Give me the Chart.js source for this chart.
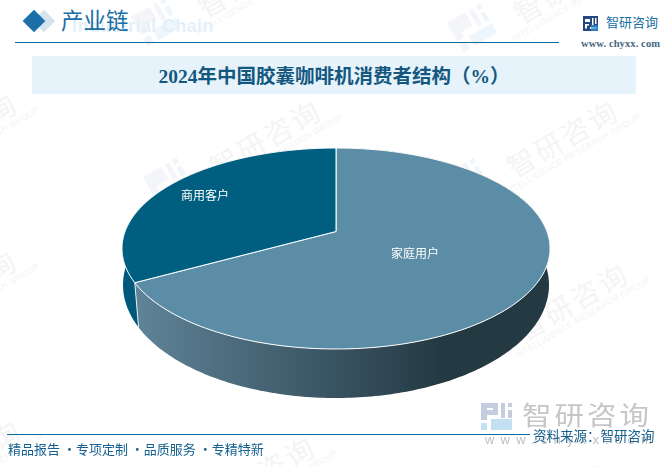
<!DOCTYPE html>
<html lang="zh">
<head>
<meta charset="utf-8">
<title>2024年中国胶囊咖啡机消费者结构（%）</title>
<script src="https://cdn.jsdelivr.net/npm/chart.js@4/dist/chart.umd.min.js"></script>
<style>
  html, body { margin: 0; padding: 0; background: #fff; }
  #page { position: relative; width: 667px; height: 467px; overflow: hidden; font-family: "Noto Sans CJK SC", sans-serif; }
  #page div, #page svg { position: absolute; white-space: nowrap; }
  #chart { position: absolute; left: 0; top: 0; }
  .wm { color: #f4f4f4; font-size: 28px; letter-spacing: 3px; transform: translate(-50%, -50%) rotate(-30deg); text-align: center; line-height: 30px; }
  .wm span { display: block; font-size: 8.5px; letter-spacing: 0.4px; line-height: 11px; color: #f3f3f3; font-family: "Liberation Sans", sans-serif; }
  .wm-logo { width: 44px; height: 34px; transform: translate(-50%, -50%) rotate(-30deg); }
</style>
</head>
<body>
<div id="page">
  <div id="watermarks"></div>

  <div style="left:72px;top:16px;font:bold 17.5px 'Liberation Sans',sans-serif;letter-spacing:.6px;color:#e4f0f9">Industrial Chain</div>
  <div style="left:36px;top:13px;width:16px;height:16px;background:#d3e4ee;transform:rotate(45deg)"></div>
  <div style="left:26px;top:13px;width:16px;height:16px;background:#1a6fa8;transform:rotate(45deg)"></div>
  <div style="left:61px;top:5px;font:22.5px/34px 'Liberation Serif','Noto Sans CJK SC',serif;color:#1a6ea5">产业链</div>
  <div style="left:15px;top:42px;width:544px;height:1px;background:#0e6a9e"></div>

  <svg style="left:583px;top:16px" width="15" height="15" viewBox="0 0 15 15">
    <rect width="15" height="15" fill="#24477f"/>
    <path d="M2 3h5v3H2zM2 8h4v1.5H4v3H2zM9 2h1.5v7H9zM12 2h1.5v6H12zM7 11h6.5v2H7z" fill="#fff"/>
    <rect x="8" y="9" width="7" height="6" fill="#2f8fd0" opacity=".75"/>
  </svg>
  <div style="left:606px;top:13px;font-size:13px;line-height:18px;color:#1a6ea5">智研咨询</div>
  <div style="left:581px;top:37px;font:bold 10.5px/13px 'Liberation Serif',serif;letter-spacing:.1px;color:#47687f">www. chyxx. com</div>

  <div style="left:32px;top:56px;width:604px;height:38px;background:#e6f3fb"></div>
  <div style="left:32px;top:56px;width:604px;height:38px;text-align:center;font:bold 19.5px/42px 'Liberation Serif','Noto Sans CJK SC',serif;color:#14587f">2024年中国胶囊咖啡机消费者结构（%）</div>

  <canvas id="chart" width="667" height="467"></canvas>

  <svg style="left:481px;top:403px" width="31" height="27" viewBox="0 0 31 27">
    <path d="M0 0h17v12H6v5H0zM6 5v2h6V5zM20 0h4v15H20zM27 0h4v4h-4zM27 7h4v8h-4z" fill="#c4cde0"/>
    <path d="M0 20h6v7H0zM10 16h21v11H10z" fill="#c3e0f2"/>
  </svg>
  <div style="left:522px;top:398px;font-size:29.5px;line-height:36px;letter-spacing:3px;color:#c6c6c6;transform-origin:left top;transform:scaleY(.88)">智研咨询</div>
  <div style="left:485px;top:433px;font:13px/14px 'Liberation Sans',sans-serif;letter-spacing:6.2px;color:#bdbdbd">www.chyxx.com</div>

  <div style="left:7px;top:434px;width:523px;height:1px;background:#0e6a9e"></div>
  <div style="left:533px;top:426px;font-size:13.5px;line-height:18px;color:#15608f">资料来源：智研咨询</div>
  <div style="left:8px;top:440px;font-size:13px;line-height:18px;color:#15608f">精品报告 ·专项定制 ·品质服务 ·专精特新</div>
</div>

<script>
const categories = ["家庭用户", "商用客户"];
const shares = [67, 33];
const sliceColors = ["#5c8da6", "#005f80"];

// screen shape of the tilted pie, top face and bottom rim
const topFace = { cx: 336, cy: 248.5, rx: 214, ry: 100.5, tilt: -0.169 };
const bottomRim = { cx: 336, cy: 285, rx: 213, ry: 113, tilt: -0.13 };
const labelRadius = [0.42, 0.77];

// circle point -> perspective view of it
function project(face, x, y) {
    const d = face.tilt * y + 1;
    const k = Math.sqrt(1 - face.tilt * face.tilt);
    return [
        face.cx + face.rx * k * x / d,
        face.cy + face.ry * (y + face.tilt) / d
    ];
}

function arcPoints(face, start, end) {
    const steps = Math.max(2, Math.ceil(Math.abs(end - start) * 60));
    const pts = [];
    for (let i = 0; i <= steps; i++) {
        const a = start + (end - start) * i / steps;
        pts.push(project(face, Math.cos(a), Math.sin(a)));
    }
    return pts;
}

function tracePoly(ctx, pts) {
    ctx.beginPath();
    pts.forEach((p, i) => i ? ctx.lineTo(p[0], p[1]) : ctx.moveTo(p[0], p[1]));
    ctx.closePath();
}

const tiltedPie = {
    id: "tiltedPie",
    beforeDatasetsDraw(chart) {
        const ctx = chart.ctx;
        const arcs = chart.getDatasetMeta(0).data;

        // side wall first, the top face covers the back of it
        const fade = ctx.createLinearGradient(137, 0, 440, 0);
        fade.addColorStop(0, "#5f8398");
        fade.addColorStop(1, "#243a43");
        arcs.forEach((arc, i) => {
            const top = arcPoints(topFace, arc.startAngle, arc.endAngle);
            const bottom = arcPoints(bottomRim, arc.endAngle, arc.startAngle);
            tracePoly(ctx, top.concat(bottom));
            ctx.fillStyle = i === 0 ? fade : "#00597a";
            ctx.fill();
        });

        // seam on the wall where the slices meet
        ctx.strokeStyle = "rgba(255,255,255,.85)";
        ctx.lineWidth = 1;
        arcs.forEach(arc => {
            const a = arc.startAngle;
            const p = project(topFace, Math.cos(a), Math.sin(a));
            const q = project(bottomRim, Math.cos(a), Math.sin(a));
            if (Math.sin(a) > 0) {
                ctx.beginPath();
                ctx.moveTo(p[0], p[1]);
                ctx.lineTo(q[0], q[1]);
                ctx.stroke();
            }
        });

        arcs.forEach((arc, i) => {
            const apex = project(topFace, 0, 0);
            tracePoly(ctx, [apex].concat(arcPoints(topFace, arc.startAngle, arc.endAngle)));
            ctx.fillStyle = sliceColors[i];
            ctx.fill();
            ctx.strokeStyle = "#fff";
            ctx.lineWidth = 1;
            ctx.stroke();
        });

        ctx.fillStyle = "#fff";
        ctx.font = '12px "Noto Sans CJK SC", sans-serif';
        ctx.textAlign = "center";
        ctx.textBaseline = "middle";
        arcs.forEach((arc, i) => {
            const mid = (arc.startAngle + arc.endAngle) / 2;
            const r = labelRadius[i];
            const p = project(topFace, r * Math.cos(mid), r * Math.sin(mid));
            ctx.fillText(categories[i], p[0], p[1]);
        });
        return false;
    }
};

new Chart(document.getElementById("chart"), {
    type: "pie",
    data: {
        labels: categories,
        datasets: [{ data: shares, backgroundColor: sliceColors, borderWidth: 0 }]
    },
    options: {
        responsive: false,
        animation: false,
        devicePixelRatio: 1,
        plugins: { legend: { display: false }, tooltip: { enabled: false } }
    },
    plugins: [tiltedPie]
});

// faint background stamps
const stamps = [[-36, 135], [268, 142], [565, 142], [256, -18], [572, -12], [-36, 292], [575, 305], [262, 478], [-32, 462], [555, 505]];
const holder = document.getElementById("watermarks");
stamps.forEach(([x, y]) => {
    const text = document.createElement("div");
    text.className = "wm";
    text.style.left = x + "px";
    text.style.top = y + "px";
    text.innerHTML = "智研咨询<span>INTELLIGENCE RESEARCH GROUP</span>";
    holder.appendChild(text);
    const logo = document.createElement("div");
    logo.className = "wm-logo";
    logo.style.left = (x - 100) + "px";
    logo.style.top = (y + 40) + "px";
    logo.innerHTML = '<svg width="44" height="34" viewBox="0 0 31 27"><path d="M0 0h17v12H6v5H0zM20 0h4v15H20z" fill="#f3f5f8"/><path d="M27 0h4v4h-4zM27 7h4v8h-4zM0 20h6v7H0zM10 18h21v9H10z" fill="#eef6fb"/></svg>';
    holder.appendChild(logo);
});
</script>
</body>
</html>
